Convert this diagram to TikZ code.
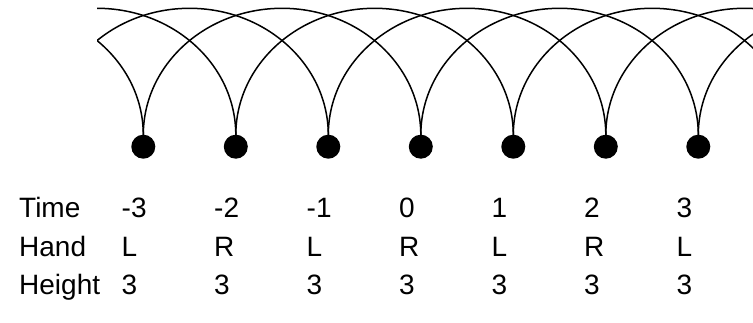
\documentclass[tikz,border=0pt]{standalone}
\usepackage{fontspec}
\setmainfont{Liberation Sans}
\begin{document}
\begin{tikzpicture}[x=1pt,y=1pt,
  ball/.style={circle,fill=black,inner sep=0pt,minimum size=24pt},
  lbl/.style={anchor=base west,inner sep=0pt,font=\fontsize{28}{28}\selectfont},
  traj/.style={line width=1.5pt}]
\useasboundingbox (0,0) rectangle (753,322);
% throw points (ball tops), including off-picture ones
\foreach \k in {-6,...,9} { \coordinate (p\k) at ({143.3+92.5*\k},187); }
\foreach \k in {0,...,6} { \node[ball] (d\k) at ({143.3+92.5*\k},175.3) {}; }
\begin{scope}
  \clip (97,0) rectangle (760,322);
  \foreach \k in {-6,...,6} {
    \draw[traj] (p\k) arc[start angle=180,end angle=0,x radius=138.75,y radius=126.7];
  }
\end{scope}
% labels
\node[lbl] (tT) at (19,105) {Time};
\node[lbl] (tH) at (19,66) {Hand};
\node[lbl] (tE) at (19,28) {Height};
\foreach \k/\t/\h in {0/-3/L,1/-2/R,2/-1/L,3/0/R,4/1/L,5/2/R,6/3/L} {
  \node[lbl] (time\k) at ({121.5+92.5*\k},105) {\t};
  \node[lbl] (hand\k) at ({121.5+92.5*\k},66) {\h};
  \node[lbl] (ht\k) at ({121.5+92.5*\k},28) {3};
}
\end{tikzpicture}
\end{document}
